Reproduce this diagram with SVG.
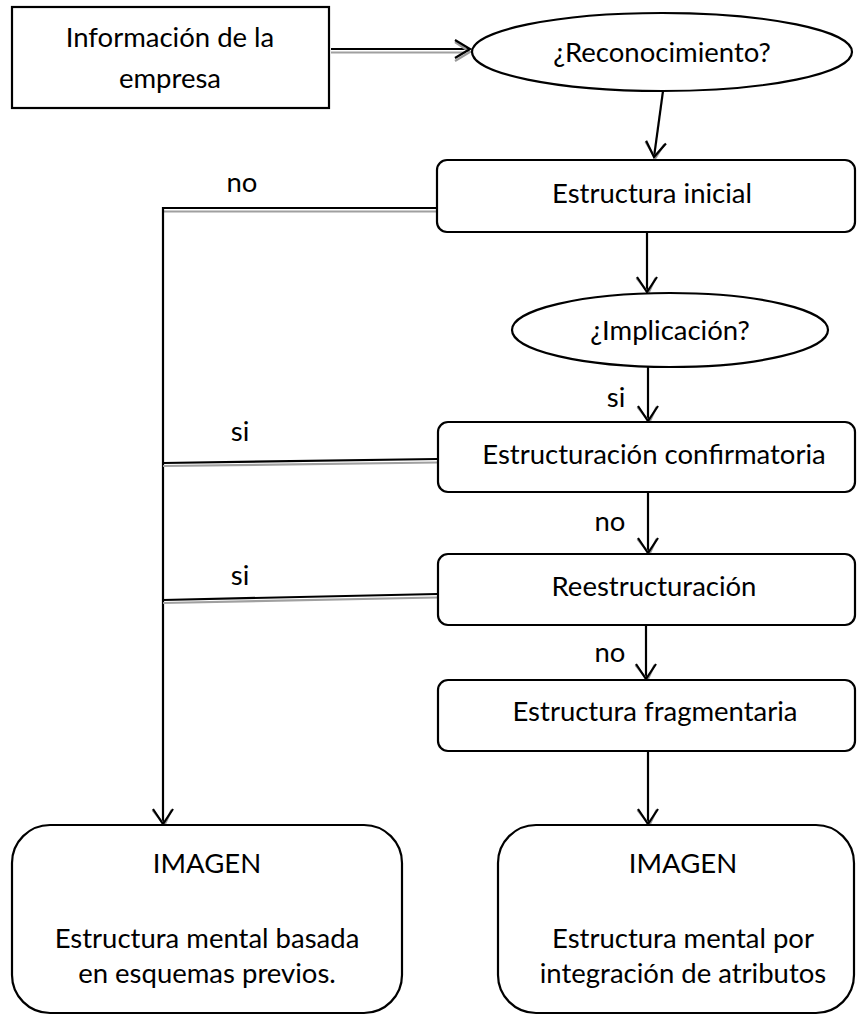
<svg xmlns="http://www.w3.org/2000/svg" width="857" height="1015" viewBox="0 0 857 1015">
<defs>
<style>
.box{fill:#fff;stroke:#000;stroke-width:2.2}
.t{font-family:Lato,"Liberation Sans",sans-serif;font-size:27.5px;fill:#000;text-anchor:middle}
.c{fill:none;stroke:#000;stroke-width:2.2}
.g{fill:none;stroke:#a0a0a0;stroke-width:2.2}
</style>
<marker id="aD" markerUnits="userSpaceOnUse" viewBox="-20 -14 26 28" refX="0" refY="0" markerWidth="26" markerHeight="28" orient="auto" overflow="visible">
<path d="M-14,-8.5 L1,-1.5 L-14,10.5" fill="none" stroke="#9a9a9a" stroke-width="2.2"/>
<path d="M-15,-10 L0,0 L-15,10" fill="none" stroke="#000" stroke-width="2.2"/>
</marker>
<marker id="aR" markerUnits="userSpaceOnUse" viewBox="-20 -14 26 28" refX="0" refY="0" markerWidth="26" markerHeight="28" orient="auto" overflow="visible">
<path d="M-15,-7 L0,3 L-15,12" fill="none" stroke="#9a9a9a" stroke-width="2.2"/>
<path d="M-15,-9 L0,0 L-15,9" fill="none" stroke="#000" stroke-width="2.2"/>
</marker>
</defs>
<rect width="857" height="1015" fill="#fff"/>

<g id="connectors">
<line class="g" x1="331" y1="52.5" x2="466" y2="52.5"/>
<line class="c" x1="331" y1="49" x2="470" y2="49" marker-end="url(#aR)"/>
<line class="c" x1="663" y1="91" x2="654" y2="157" marker-end="url(#aD)"/>
<line class="c" x1="647" y1="232" x2="647" y2="292" marker-end="url(#aD)"/>
<line class="c" x1="648" y1="358" x2="648" y2="421" marker-end="url(#aD)"/>
<line class="c" x1="648" y1="492" x2="648" y2="553" marker-end="url(#aD)"/>
<line class="c" x1="646" y1="625" x2="646" y2="679" marker-end="url(#aD)"/>
<line class="c" x1="648" y1="751" x2="648" y2="824" marker-end="url(#aD)"/>
<line class="g" x1="163" y1="211.5" x2="437" y2="211.5"/>
<polyline class="c" points="437,208 163,208 163,824" marker-end="url(#aD)"/>
<line class="g" x1="163" y1="466" x2="437" y2="462.5"/>
<line class="c" x1="163" y1="463" x2="437" y2="459"/>
<line class="g" x1="163" y1="603" x2="437" y2="597.5"/>
<line class="c" x1="163" y1="600" x2="437" y2="594"/>
<text class="t" x="242" y="192">no</text>
<text class="t" x="240" y="441">si</text>
<text class="t" x="240" y="585">si</text>
<text class="t" x="616" y="407">si</text>
<text class="t" x="610" y="531">no</text>
<text class="t" x="610" y="662">no</text>
</g>

<g id="n-info">
<rect class="box" x="12" y="7" width="317" height="101"/>
<text class="t" x="170" y="47">Información de la</text>
<text class="t" x="170" y="88">empresa</text>
</g>
<g id="n-reconocimiento">
<ellipse class="box" cx="662" cy="52" rx="190" ry="39"/>
<text class="t" x="662" y="62">¿Reconocimiento?</text>
</g>
<g id="n-inicial">
<rect class="box" x="437" y="160" width="418" height="72" rx="10"/>
<text class="t" x="652" y="203">Estructura inicial</text>
</g>
<g id="n-implicacion">
<ellipse class="box" cx="670" cy="330" rx="158" ry="37"/>
<text class="t" x="670" y="340">¿Implicación?</text>
</g>
<g id="n-confirmatoria">
<rect class="box" x="438" y="422" width="417" height="70" rx="10"/>
<text class="t" x="654" y="464">Estructuración confirmatoria</text>
</g>
<g id="n-reestructuracion">
<rect class="box" x="438" y="554" width="417" height="71" rx="10"/>
<text class="t" x="654" y="596">Reestructuración</text>
</g>
<g id="n-fragmentaria">
<rect class="box" x="438" y="680" width="417" height="71" rx="10"/>
<text class="t" x="655" y="721">Estructura fragmentaria</text>
</g>
<g id="n-imagen1">
<rect class="box" x="12" y="825" width="390" height="188" rx="38"/>
<text class="t" x="207" y="873">IMAGEN</text>
<text class="t" x="207" y="948">Estructura mental basada</text>
<text class="t" x="207" y="983">en esquemas previos.</text>
</g>
<g id="n-imagen2">
<rect class="box" x="498" y="825" width="356" height="188" rx="38"/>
<text class="t" x="683" y="873">IMAGEN</text>
<text class="t" x="683" y="948">Estructura mental por</text>
<text class="t" x="683" y="983">integración de atributos</text>
</g>
</svg>
